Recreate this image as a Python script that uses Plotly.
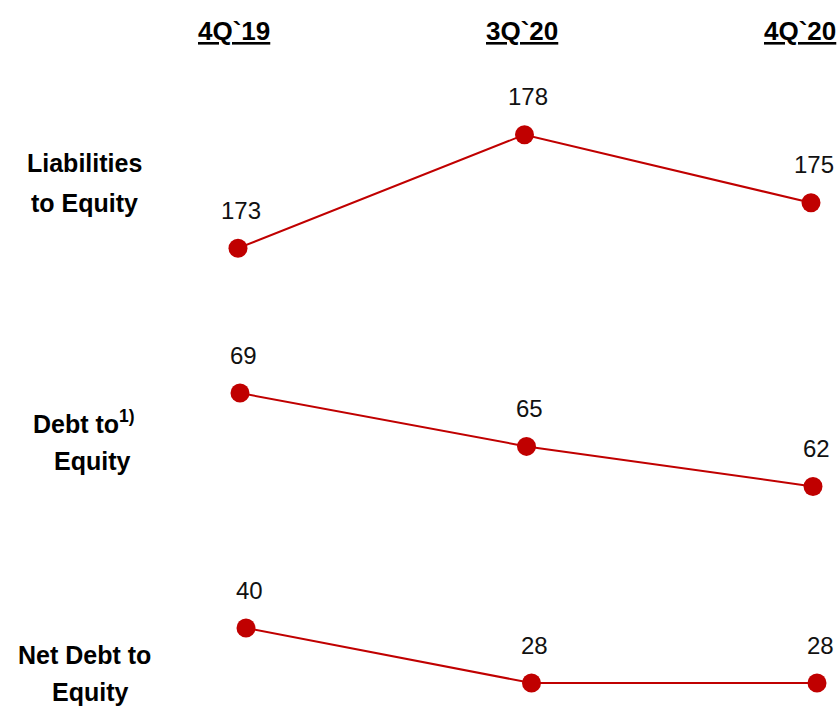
import plotly.graph_objects as go

# Periods shown as column headers
periods = ["4Q`19", "3Q`20", "4Q`20"]

# Leverage ratios (%) per row
liabilities_to_equity = [173, 178, 175]
debt_to_equity = [69, 65, 62]
net_debt_to_equity = [40, 28, 28]

row_labels = [
    ["Liabilities", "to Equity"],
    ["Debt to<sup>1)</sup>", "Equity"],
    ["Net Debt to", "Equity"],
]

W, H = 839, 707
RED = "#C00000"
FONT = "Liberation Sans, Arial, sans-serif"

rows = [liabilities_to_equity, debt_to_equity, net_debt_to_equity]

# Per-row layout: pixel band of the panel, pixel anchor of the scale and px per unit
row_layout = [
    dict(band=(60, 300), anchor=(175.33, 195.3), scale=22.7, x0=238, dx=286.5),
    dict(band=(320, 540), anchor=(65.33, 442.0), scale=13.34, x0=240, dx=286.5),
    dict(band=(560, 707), anchor=(28.0, 683.0), scale=4.583, x0=246, dx=285.5),
]
label_pos = [
    [(84, 163), (84, 203)],
    [(84, 422), (92, 461)],
    [(84, 655), (90, 692)],
]

fig = go.Figure()
layout = dict(
    width=W, height=H,
    margin=dict(l=0, r=0, t=0, b=0),
    paper_bgcolor="white", plot_bgcolor="rgba(0,0,0,0)",
    showlegend=False,
    font=dict(family=FONT, color="black"),
)
annotations = []

for i, (vals, rl) in enumerate(zip(rows, row_layout)):
    k = "" if i == 0 else str(i + 1)
    top, bot = rl["band"]
    v0, p0 = rl["anchor"]
    s = rl["scale"]
    y_top = v0 + (p0 - top) / s
    y_bot = v0 + (p0 - bot) / s
    x_lo = -rl["x0"] / rl["dx"]
    x_hi = (W - rl["x0"]) / rl["dx"]
    fig.add_trace(go.Scatter(
        x=[0, 1, 2], y=vals, mode="lines+markers",
        line=dict(color=RED, width=2),
        marker=dict(color=RED, size=19),
        xaxis="x" + k, yaxis="y" + k, cliponaxis=False,
        hoverinfo="skip",
    ))
    layout["xaxis" + k] = dict(range=[x_lo, x_hi], visible=False, anchor="y" + k,
                               domain=[0, 1], fixedrange=True)
    layout["yaxis" + k] = dict(range=[y_bot, y_top], visible=False, anchor="x" + k,
                               domain=[1 - bot / H, 1 - top / H], fixedrange=True)
    for j, v in enumerate(vals):
        annotations.append(dict(
            x=j, y=v, xref="x" + k, yref="y" + k, text=str(v),
            showarrow=False, xanchor="center", yanchor="middle",
            xshift=3, yshift=38,
            font=dict(size=24, family=FONT, color="#111111"),
        ))
    for txt, (px, py) in zip(row_labels[i], label_pos[i]):
        annotations.append(dict(
            x=px / W, y=1 - py / H, xref="paper", yref="paper",
            text="<b>" + txt + "</b>", showarrow=False,
            xanchor="center", yanchor="middle",
            font=dict(size=25, family=FONT, color="black"),
        ))

header_x = [234, 522, 800]
for p, px in zip(periods, header_x):
    annotations.append(dict(
        x=px / W, y=1 - 31 / H, xref="paper", yref="paper",
        text="<b><u>" + p + "</u></b>", showarrow=False,
        xanchor="center", yanchor="middle",
        font=dict(size=26, family=FONT, color="black"),
    ))

layout["annotations"] = annotations
fig.update_layout(**layout)
fig.write_html("out.html")
